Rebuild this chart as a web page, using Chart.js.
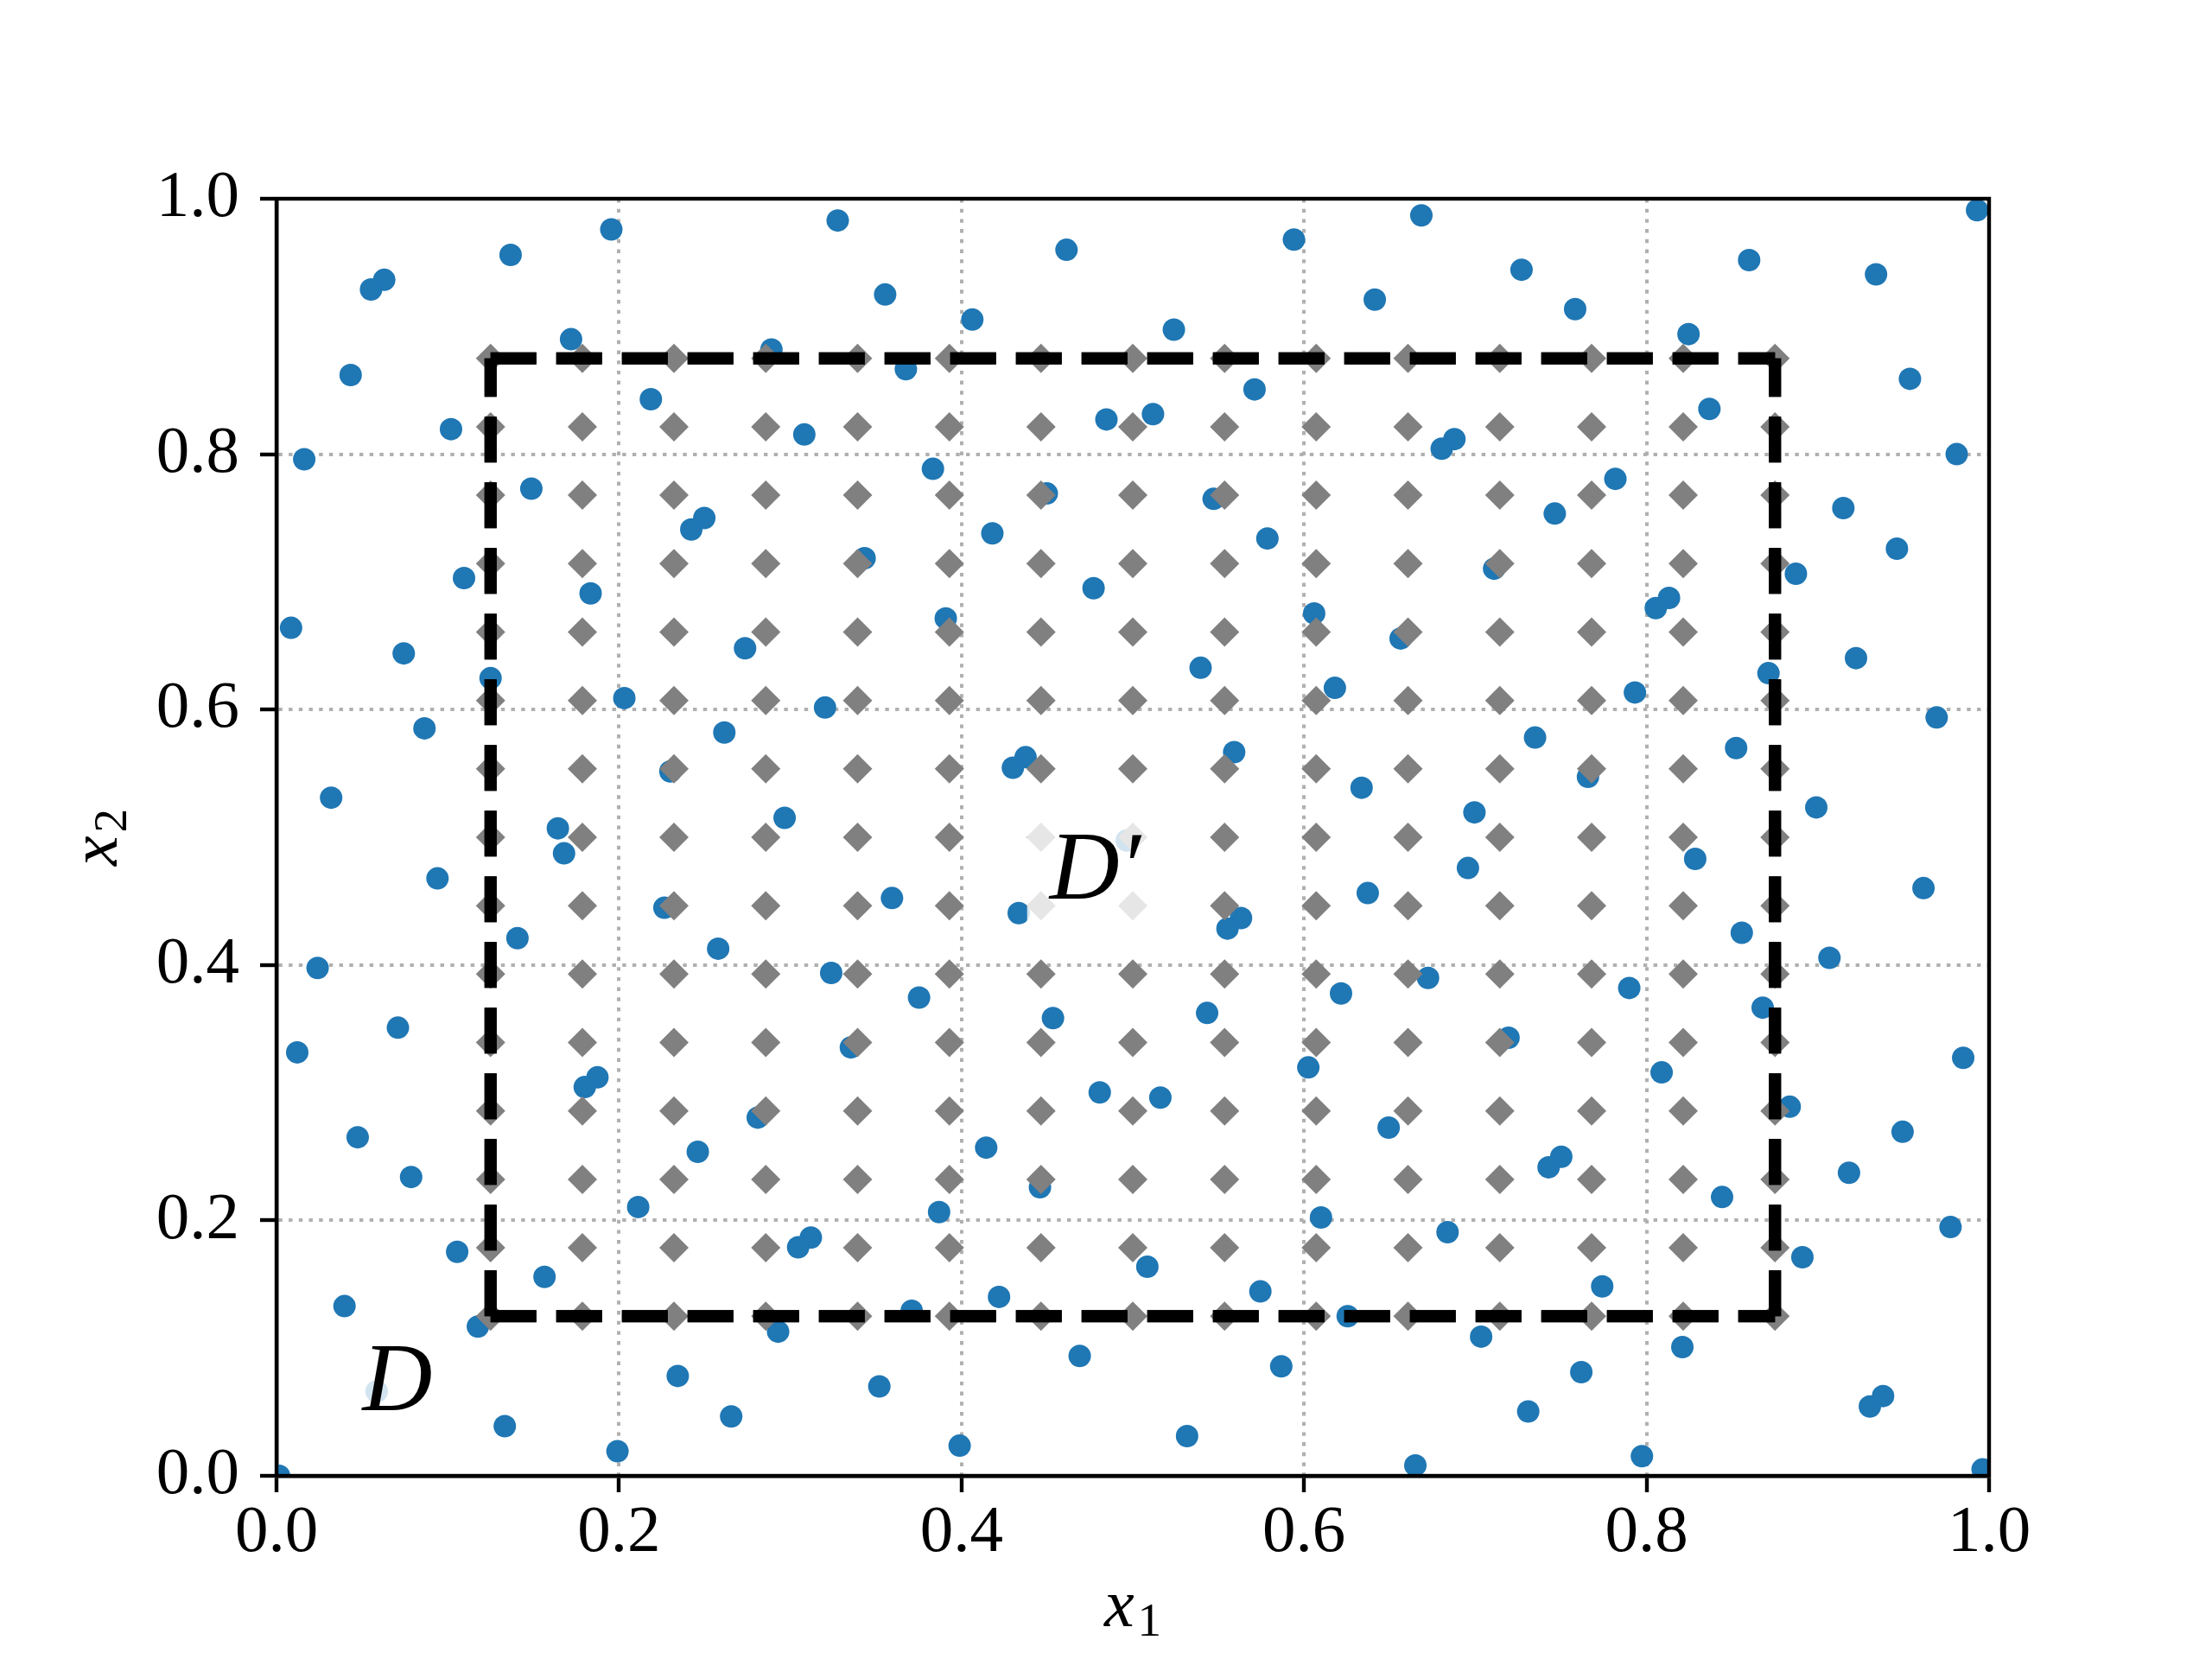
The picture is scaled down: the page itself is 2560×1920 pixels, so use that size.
<!DOCTYPE html>
<html>
<head>
<meta charset="utf-8">
<script src="https://cdn.jsdelivr.net/npm/chart.js@4.4.0/dist/chart.umd.min.js"></script>
<style>
  html, body { margin: 0; padding: 0; background: #fff; }
</style>
</head>
<body>
<canvas id="grafico" width="2560" height="1920"></canvas>
<script>
// pontos aleatorios (azuis)
const amostraX = [
  0.1955, 0.1367, 0.0629, 0.0552, 0.3277, 0.172, 0.0433, 0.289, 0.2186, 0.1019,
  0.3082, 0.0162, 0.1488, 0.2498, 0.2422, 0.1095, 0.1834, 0.0085, 0.0743, 0.2736,
  0.125, 0.2031, 0.3203, 0.0864, 0.2615, 0.230, 0.0319, 0.2967, 0.1643,
  0.3554, 0.4613, 0.4063, 0.524, 0.5941, 0.6685, 0.6413, 0.3675, 0.5711, 0.4846,
  0.5118, 0.3833, 0.4498, 0.5472, 0.418, 0.5786, 0.3434, 0.4771, 0.3908, 0.6059,
  0.6564, 0.5396, 0.618, 0.4374, 0.430, 0.5592, 0.6336, 0.4965,
  0.727, 0.7583, 0.8599, 0.934, 0.993, 0.8245, 0.9538, 0.8367, 0.6878, 0.6804,
  0.9811, 0.7818, 0.7464, 0.9149, 0.9462, 0.711, 0.8872, 0.8131, 0.8054, 0.9223,
  0.8712, 0.7932, 0.9694, 0.7349, 0.8523, 0.7658, 0.6995, 0.8991,
  0.1679, 0.094, 0.2265, 0.1407, 0.2579, 0.024, 0.3239, 0.0709, 0.0121, 0.3354,
  0.1874, 0.18, 0.281, 0.0474, 0.246, 0.0786, 0.2112, 0.1055, 0.312, 0.3046,
  0.1565, 0.0397, 0.1176, 0.2929, 0.2343, 0.0585, 0.2655, 0.1333, 0.1991, 0.0015,
  0.3594, 0.4334, 0.5632, 0.5553, 0.6372, 0.3752, 0.4534, 0.5434, 0.6216, 0.6724,
  0.6025, 0.4807, 0.5161, 0.6494, 0.4144, 0.4458, 0.3869, 0.6099, 0.5085, 0.4219,
  0.5745, 0.3709, 0.6255, 0.469, 0.5867, 0.352, 0.3989, 0.5317, 0.665,
  0.6957, 0.8284, 0.9617, 0.8556, 0.9068, 0.7899, 0.8678, 0.7194, 0.9849, 0.8088,
  0.8836, 0.9495, 0.7502, 0.7428, 0.9182, 0.8441, 0.6838, 0.9775, 0.891, 0.7741,
  0.7034, 0.8209, 0.7619, 0.7309, 0.9381, 0.9304, 0.7973, 0.9962
];
const amostraY = [
  0.976, 0.956, 0.9365, 0.929, 0.983, 0.890, 0.862, 0.882, 0.843, 0.8196,
  0.8154, 0.796, 0.773, 0.750, 0.741, 0.703, 0.691, 0.664, 0.644, 0.648,
  0.6246, 0.609, 0.6016, 0.5853, 0.582, 0.5516, 0.531, 0.5152, 0.507,
  0.925, 0.960, 0.9054, 0.8975, 0.968, 0.987, 0.921, 0.8665, 0.8507, 0.8272,
  0.8314, 0.7885, 0.7692, 0.765, 0.738, 0.734, 0.7185, 0.695, 0.6714, 0.6753,
  0.6557, 0.6327, 0.617, 0.5627, 0.5545, 0.5666, 0.5388, 0.4975,
  0.9444, 0.9136, 0.952, 0.9408, 0.991, 0.894, 0.859, 0.8354, 0.8118, 0.8043,
  0.80, 0.7807, 0.7535, 0.7578, 0.726, 0.7103, 0.7064, 0.6874, 0.6795, 0.6403,
  0.6285, 0.6134, 0.5938, 0.5781, 0.5699, 0.5473, 0.5195, 0.5234,
  0.4874, 0.4678, 0.4448, 0.421, 0.4128, 0.3977, 0.3938, 0.3509, 0.3316, 0.3355,
  0.312, 0.3044, 0.2805, 0.2651, 0.2537, 0.234, 0.2105, 0.1754, 0.1866, 0.179,
  0.1558, 0.1329, 0.1169, 0.1129, 0.0782, 0.0661, 0.0465, 0.0389, 0.0193, 0.0,
  0.4524, 0.4406, 0.4367, 0.4285, 0.4563, 0.3745, 0.3584, 0.3624, 0.3777, 0.3899,
  0.3198, 0.3002, 0.2962, 0.2727, 0.257, 0.2259, 0.2065, 0.2023, 0.1637, 0.1401,
  0.1444, 0.1293, 0.125, 0.0939, 0.0858, 0.07, 0.0236, 0.0311, 0.0082,
  0.4759, 0.4831, 0.4602, 0.4252, 0.4056, 0.382, 0.3666, 0.343, 0.3273, 0.3159,
  0.289, 0.2694, 0.2498, 0.2416, 0.2373, 0.2183, 0.1908, 0.1948, 0.1712, 0.1483,
  0.109, 0.1008, 0.0812, 0.0504, 0.0625, 0.0543, 0.0154, 0.005
];

// malha regular (losangos cinza), mesmos valores nos dois eixos
const malha = [0.125, 0.1786, 0.2321, 0.2857, 0.3393, 0.3929, 0.4464, 0.5,
  0.5536, 0.6071, 0.6607, 0.7143, 0.7679, 0.8214, 0.875];

// limites do retangulo tracejado D'
const bordas = [0.125, 0.875];

const marcasEixo = [0, 0.2, 0.4, 0.6, 0.8, 1.0];

const regioes = ["D", "D\u2032"];
const regiaoX = [0.0706, 0.478];
const regiaoY = [0.0514, 0.452];

const FONTE = '"Liberation Serif", "DejaVu Serif", serif';

function linhaTracejada(p0, p1) {
  return {
    data: [p0, p1],
    showLine: true,
    borderColor: "#000",
    borderWidth: 14,
    borderDash: [53, 23],
    borderCapStyle: "butt",
    pointRadius: 0,
    order: 0,
    clip: 0,
    retangulo: true
  };
}

const pontosAmostra = amostraX.map((x, i) => ({ x, y: amostraY[i] }));
const pontosMalha = malha.flatMap(gx => malha.map(gy => ({ x: gx, y: gy })));

const [lo, hi] = bordas;
const datasets = [
  linhaTracejada({ x: lo, y: lo }, { x: hi, y: lo }),
  linhaTracejada({ x: lo, y: hi }, { x: hi, y: hi }),
  linhaTracejada({ x: lo, y: lo }, { x: lo, y: hi }),
  linhaTracejada({ x: hi, y: lo }, { x: hi, y: hi }),
  {
    data: pontosMalha,
    pointStyle: "rectRot",
    pointRadius: 17,
    pointBackgroundColor: "#808080",
    pointBorderWidth: 0,
    showLine: false,
    order: 1,
    clip: 0
  },
  {
    data: pontosAmostra,
    pointStyle: "circle",
    pointRadius: 13,
    pointBackgroundColor: "#1f77b4",
    pointBorderWidth: 0,
    showLine: false,
    order: 2,
    clip: 0
  }
];

function escala(largura, posicao) {
  return {
    type: "linear",
    position: posicao,
    min: 0,
    max: 1,
    z: 1,
    afterBuildTicks: s => { s.ticks = marcasEixo.map(v => ({ value: v })); },
    afterFit: s => {
      if (posicao === "left") s.width = largura;
      else s.height = largura;
    },
    ticks: {
      callback: v => Number(v).toFixed(1),
      color: "#000",
      font: { family: FONTE, size: 77 },
      padding: posicao === "left" ? 24 : 2,
      maxRotation: 0,
      autoSkip: false
    },
    grid: {
      color: "#b0b0b0",
      lineWidth: 4,
      drawTicks: true,
      tickLength: 19,
      tickWidth: 4.4,
      tickColor: "#000"
    },
    border: { display: true, color: "#000", width: 4.4, dash: [4.4, 7.3] }
  };
}

function desenharRotulo(ctx, base, sub, x, y, ang) {
  ctx.save();
  ctx.translate(x, y);
  ctx.rotate(ang);
  ctx.fillStyle = "#000";
  ctx.textAlign = "left";
  ctx.textBaseline = "alphabetic";
  ctx.font = "italic 78px " + FONTE;
  const w1 = ctx.measureText(base).width;
  ctx.font = "55px " + FONTE;
  const w2 = ctx.measureText(sub).width;
  const ini = -(w1 + w2 + 4) / 2;
  ctx.font = "italic 78px " + FONTE;
  ctx.fillText(base, ini, 0);
  ctx.font = "55px " + FONTE;
  ctx.fillText(sub, ini + w1 + 4, 11);
  ctx.restore();
}

const extras = {
  id: "extras",
  afterDraw(chart) {
    const ctx = chart.ctx;
    const area = chart.chartArea;

    // tracejado por cima da grade, como no original
    chart.data.datasets.forEach((ds, i) => {
      if (ds.retangulo) chart.getDatasetMeta(i).controller.draw();
    });

    // rotulos D e D' com caixa branca semi-transparente
    const sx = chart.scales.x, sy = chart.scales.y;
    regioes.forEach((txt, i) => {
      const px = sx.getPixelForValue(regiaoX[i]);
      const py = sy.getPixelForValue(regiaoY[i]);
      ctx.save();
      ctx.font = "italic 112px " + FONTE;
      ctx.textAlign = "center";
      ctx.textBaseline = "alphabetic";
      const m = ctx.measureText(txt);
      const x0 = px - m.actualBoundingBoxLeft - 24;
      const x1 = px + m.actualBoundingBoxRight + 24;
      const y0 = py - m.actualBoundingBoxAscent - 24;
      const y1 = py + 40;
      ctx.fillStyle = "rgba(255,255,255,0.8)";
      ctx.fillRect(x0, y0, x1 - x0, y1 - y0);
      ctx.fillStyle = "#000";
      ctx.fillText(txt, px, py);
      ctx.restore();
    });

    // moldura completa
    ctx.save();
    ctx.strokeStyle = "#000";
    ctx.lineWidth = 4.4;
    ctx.strokeRect(area.left, area.top, area.right - area.left, area.bottom - area.top);
    ctx.restore();

    desenharRotulo(ctx, "x", "1", (area.left + area.right) / 2, area.bottom + 174, 0);
    desenharRotulo(ctx, "x", "2", 135, (area.top + area.bottom) / 2, -Math.PI / 2);
  }
};

new Chart(document.getElementById("grafico"), {
  type: "scatter",
  data: { datasets },
  options: {
    responsive: false,
    devicePixelRatio: 1,
    animation: false,
    layout: { padding: { top: 230, right: 258, bottom: 0, left: 0 } },
    scales: {
      x: escala(212, "bottom"),
      y: escala(320, "left")
    },
    plugins: {
      legend: { display: false },
      tooltip: { enabled: false }
    }
  },
  plugins: [extras]
});
</script>
</body>
</html>
